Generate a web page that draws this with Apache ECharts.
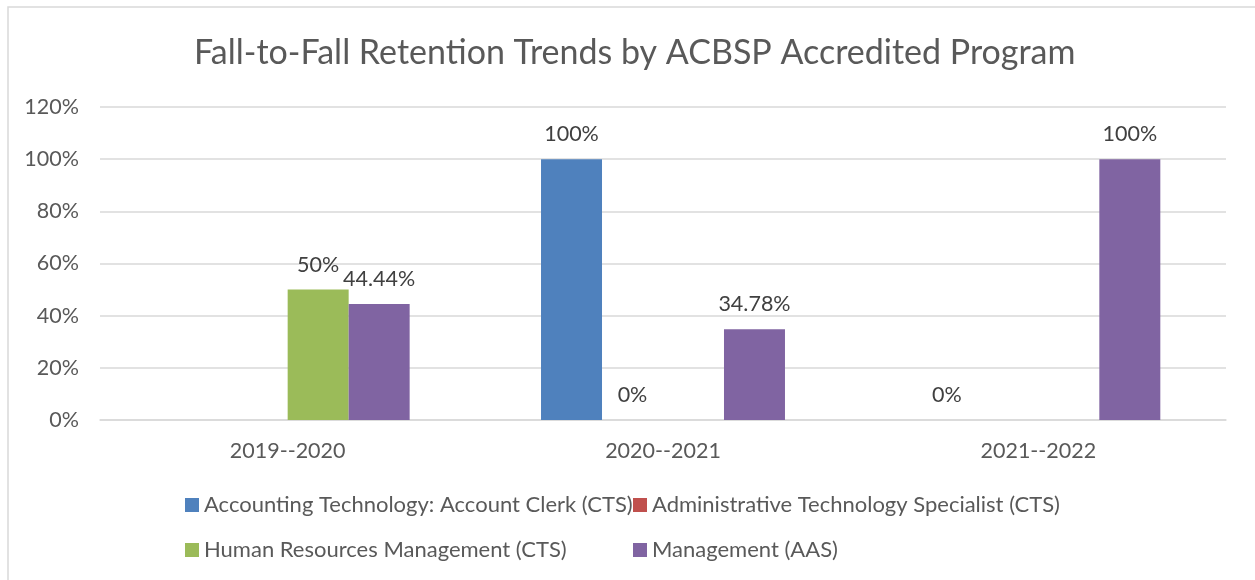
<!DOCTYPE html>
<html>
<head>
<meta charset="utf-8">
<script src="https://cdn.jsdelivr.net/npm/echarts@6/dist/echarts.min.js"></script>
<style>
  html, body { margin: 0; padding: 0; background: #fff; }
  #chart { width: 1255px; height: 580px; }
</style>
</head>
<body>
<div id="chart"></div>
<script>
// data
const years = ['2019--2020', '2020--2021', '2021--2022'];
const accounting = [null, 100, 0];
const adminTech = [null, 0, null];
const humanRes = [50, null, null];
const management = [44.44, 34.78, 100];
const yTicks = [0, 20, 40, 60, 80, 100, 120];

const names = [
    'Accounting Technology: Account Clerk (CTS)',
    'Administrative Technology Specialist (CTS)',
    'Human Resources Management (CTS)',
    'Management (AAS)'
];
const colors = ['#4f81bd', '#c0504d', '#9bbb59', '#8064a2'];
const values = [accounting, adminTech, humanRes, management];

const FONT = 'Lato';
const SIZE = 21.5;
const chart = echarts.init(document.getElementById('chart'));

// one legend per item so the two columns line up like the original
const legendPos = [[185, 494], [633, 494], [185, 539], [633, 539]];
const legends = names.map((n, i) => ({
    data: [n],
    left: legendPos[i][0],
    top: legendPos[i][1],
    icon: 'rect',
    itemWidth: 14,
    itemHeight: 14,
    itemGap: 0,
    padding: 0,
    selectedMode: false,
    textStyle: { fontFamily: FONT, fontSize: 22, color: '#595959' }
}));

const option = {
    animation: false,
    backgroundColor: '#fff',
    color: colors,
    title: {
        text: 'Fall-to-Fall Retention Trends by ACBSP Accredited Program',
        left: 189,
        top: 31,
        textStyle: { fontFamily: FONT, fontSize: 34, fontWeight: 'normal', color: '#595959' }
    },
    graphic: [{
        type: 'rect',
        shape: { x: 8, y: 7, width: 1400, height: 700 },
        style: { fill: 'none', stroke: '#d9d9d9', lineWidth: 1.5 },
        silent: true
    }],
    legend: legends,
    grid: { left: 100, right: 29, top: 107, bottom: 160 },
    xAxis: {
        type: 'category',
        data: years,
        axisTick: { show: false },
        axisLine: { lineStyle: { color: '#d9d9d9', width: 1.5 } },
        axisLabel: { fontFamily: FONT, fontSize: SIZE, color: '#595959', margin: 20 }
    },
    yAxis: {
        type: 'value',
        min: yTicks[0],
        max: yTicks[yTicks.length - 1],
        interval: 20,
        axisLine: { show: false },
        axisTick: { show: false },
        splitLine: { lineStyle: { color: '#d9d9d9', width: 1.5 } },
        axisLabel: {
            fontFamily: FONT, fontSize: SIZE, color: '#595959', margin: 21,
            formatter: v => v + '%'
        }
    },
    series: names.map((n, i) => ({
        name: n,
        type: 'bar',
        data: values[i],
        barGap: '0%',
        barCategoryGap: '35%',
        itemStyle: { color: colors[i] },
        label: {
            show: true,
            position: 'top',
            distance: 14,
            fontFamily: FONT,
            fontSize: SIZE,
            color: '#404040',
            formatter: p => p.value == null ? '' : p.value + '%'
        }
    }))
};

chart.setOption(option);
window.addEventListener('resize', () => chart.resize());
</script>
</body>
</html>
